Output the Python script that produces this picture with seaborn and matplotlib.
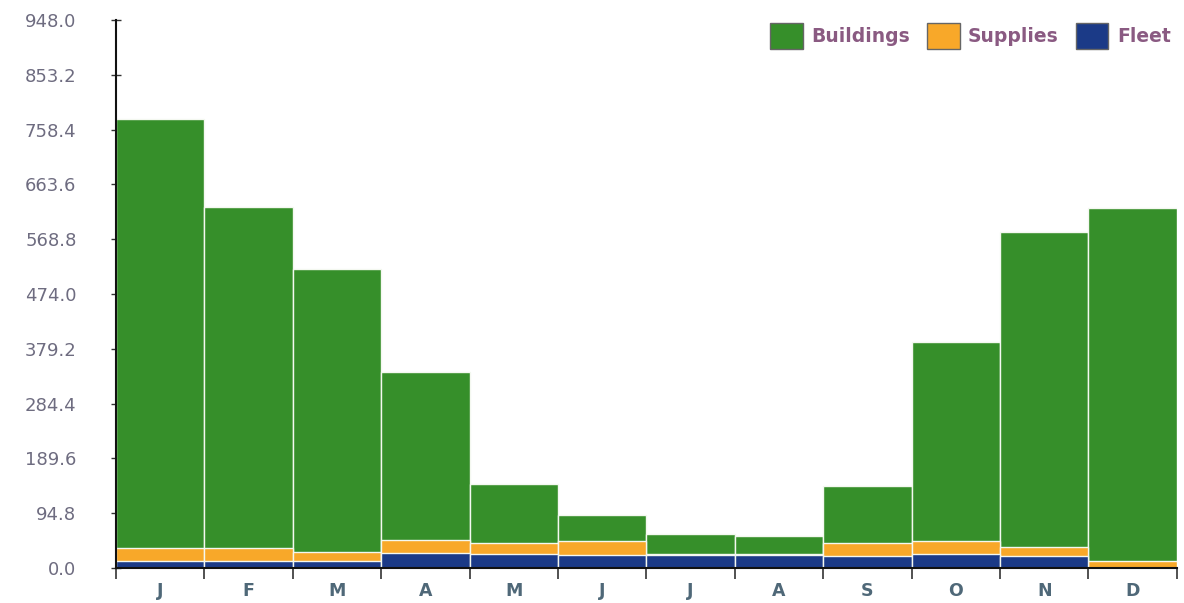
import numpy as np
import pandas as pd
import matplotlib
matplotlib.use('Agg')
import matplotlib.pyplot as plt
from matplotlib.patches import Patch
import seaborn as sns

sns.set_style('white')

# monthly values
months = ['Jan', 'Feb', 'Mar', 'Apr', 'May', 'Jun',
          'Jul', 'Aug', 'Sep', 'Oct', 'Nov', 'Dec']
month_letters = ['J', 'F', 'M', 'A', 'M', 'J', 'J', 'A', 'S', 'O', 'N', 'D']
fleet = [12, 12, 13, 26, 24, 22, 22, 22, 20, 24, 20, 0]
supplies = [22, 22, 14, 22, 20, 25, 3, 3, 24, 22, 17, 12]
buildings = [743, 591, 490, 291, 101, 45, 34, 30, 98, 345, 544, 611]
ytick_values = [0.0, 94.8, 189.6, 284.4, 379.2, 474.0,
                568.8, 663.6, 758.4, 853.2, 948.0]

green = '#368f2a'
orange = '#f8a829'
navy = '#1b3a87'
tick_gray = '#6e6c80'
xlabel_color = '#4f6878'
legend_color = '#8a5a82'

df = pd.DataFrame({'month': months, 'fleet': fleet,
                   'supplies': supplies, 'buildings': buildings})
df['low'] = df['fleet']
df['mid'] = df['fleet'] + df['supplies']
df['total'] = df['mid'] + df['buildings']

fig = plt.figure(figsize=(11.84, 6.03), dpi=100)
ax = fig.add_axes([0.098, 0.058, 0.896, 0.909])

# stacked look: draw cumulative totals from the back to the front
for col, color in [('total', green), ('mid', orange), ('low', navy)]:
    sns.barplot(data=df, x='month', y=col, color=color, width=1.0,
                edgecolor='#f4f8f0', linewidth=1.0, saturation=1, ax=ax)

ax.set_xlim(-0.5, 11.5)
ax.set_ylim(0, 948)
ax.set_xlabel('')
ax.set_ylabel('')

ax.set_yticks(ytick_values)
ax.set_yticklabels([f'{v:.1f}' for v in ytick_values],
                   color=tick_gray, fontsize=13)
ax.tick_params(axis='y', direction='inout', length=7, width=1,
               color='#333333', left=True, pad=25)

ax.set_xticks(np.arange(12))
ax.set_xticklabels(month_letters, color=xlabel_color,
                   fontsize=12.5, fontweight='bold')
ax.set_xticks(np.arange(-0.5, 12.0, 1.0), minor=True)
ax.tick_params(axis='x', which='major', length=0, pad=10)
ax.tick_params(axis='x', which='minor', direction='out', length=8,
               width=1.2, color='#333333', bottom=True)

for side in ['top', 'right']:
    ax.spines[side].set_visible(False)
ax.spines['left'].set_color('#111111')
ax.spines['bottom'].set_color('#111111')
ax.spines['left'].set_linewidth(1.5)
ax.spines['bottom'].set_linewidth(1.5)

handles = [Patch(facecolor=green, edgecolor='#666666', label='Buildings'),
           Patch(facecolor=orange, edgecolor='#666666', label='Supplies'),
           Patch(facecolor=navy, edgecolor='#666666', label='Fleet')]
leg = ax.legend(handles=handles, loc='upper right', ncol=3, frameon=False,
                prop={'size': 13.5, 'weight': 'bold'},
                handlelength=1.75, handleheight=1.75,
                handletextpad=0.45, columnspacing=0.9,
                bbox_to_anchor=(1.01, 1.025))
for t in leg.get_texts():
    t.set_color(legend_color)

fig.savefig('out.png', dpi=100)
